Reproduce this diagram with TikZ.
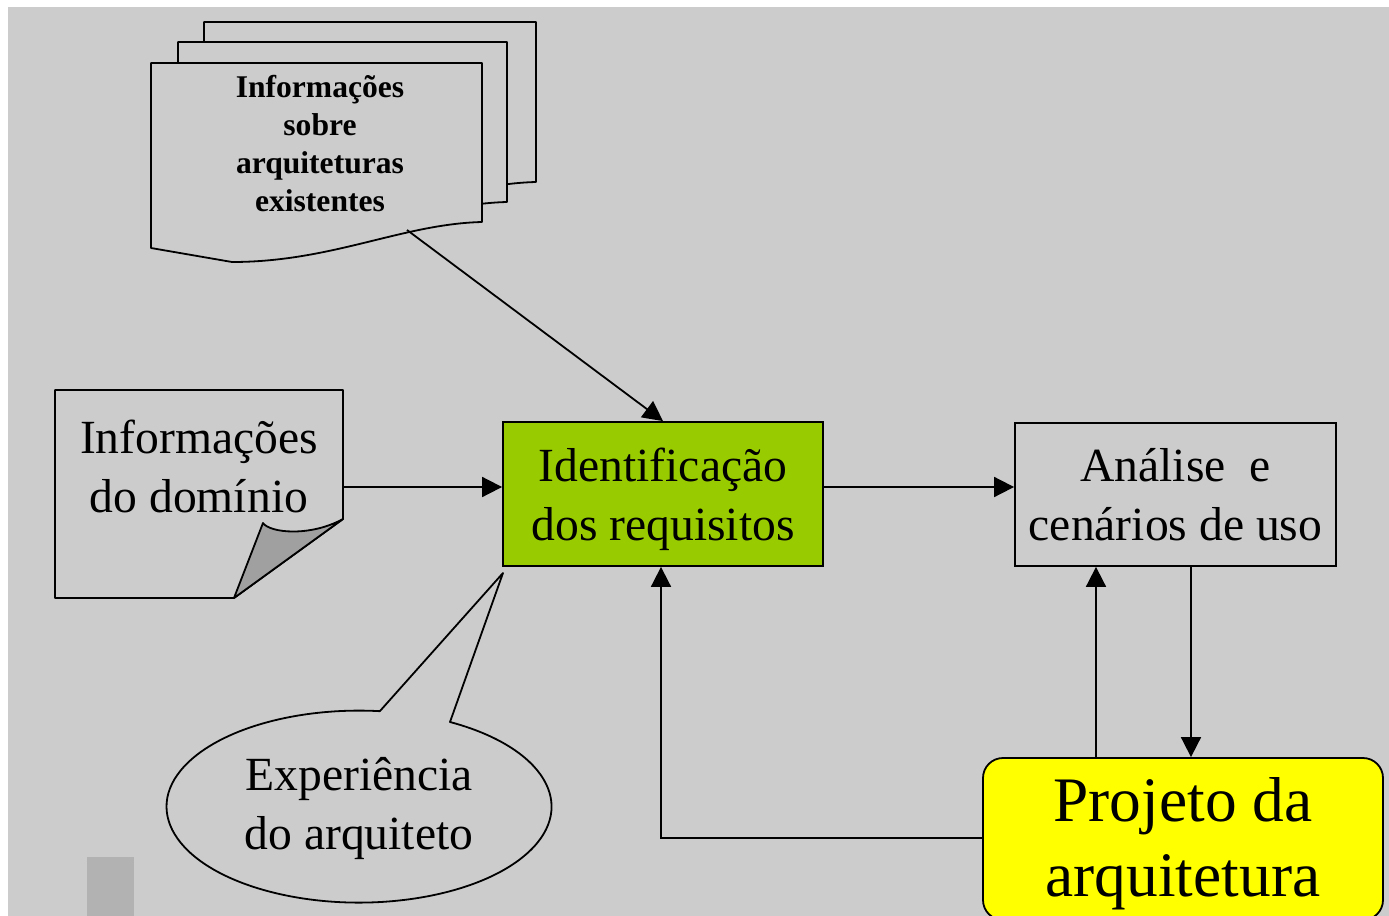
\documentclass[tikz,border=0pt]{standalone}
\usepackage{fontspec}
\setmainfont{Liberation Serif}
\usetikzlibrary{arrows.meta}
\definecolor{bggray}{HTML}{CCCCCC}
\definecolor{shadegray}{HTML}{B2B2B2}
\definecolor{foldgray}{HTML}{A0A0A0}
\definecolor{boxgreen}{HTML}{99CC00}
\definecolor{boxyellow}{HTML}{FFFF00}
\begin{document}
\begin{tikzpicture}[x=0.5pt,y=-0.5pt,line width=0.9pt,
  arr/.style={-{Triangle[length=10pt,width=10pt]}},
  page/.style={draw=black,fill=bggray,line join=round},
  midtext/.style={align=center,inner sep=0pt,font=\fontsize{23.8}{29.5}\selectfont},
  doctext/.style={align=center,inner sep=0pt,font=\fontsize{15.8}{19}\selectfont\bfseries},
  procbox/.style={draw=black,rectangle,inner sep=0pt,align=center,font=\fontsize{23.8}{29.5}\selectfont}]
\useasboundingbox (0,0) rectangle (1389,916);
\clip (0,0) rectangle (1389,916);
\fill[white] (0,0) rectangle (1389,916);
\fill[bggray] (8,7) rectangle (1389,916);
\fill[shadegray] (87,857) rectangle (134,916);

% document stack
\draw[page] (204,22) -- (536,22) -- (536,182) .. controls (456,184) and (386,222) .. (286,222) -- (204,208) -- cycle;
\draw[page] (178,42) -- (507,42) -- (507,202) .. controls (427,204) and (357,242) .. (257,242) -- (178,228) -- cycle;
\draw[page] (151,63) -- (482,63) -- (482,222) .. controls (402,224) and (332,262) .. (232,262) -- (151,248) -- cycle;
\node[doctext] (doctxt) at (320,144) {Informações\\sobre\\arquiteturas\\existentes};
\coordinate (docout) at (407,230);

% domain note
\draw[page] (55,390) -- (343,390) -- (343,519) -- (234,598) -- (55,598) -- cycle;
\draw[draw=black,fill=foldgray,line join=round] (234,598) -- (263,523) .. controls (270,533) and (310,537) .. (343,519) -- cycle;
\node[midtext] (domtxt) at (199,466) {Informações\\do domínio};
\coordinate (domout) at (343,487);

% callout ellipse
\draw[page] (380,711) -- (503,573) -- (450,722) arc[start angle=-61.8,end angle=276.1,x radius=192.5,y radius=96] -- cycle;
\node[midtext] (exptxt) at (359,809) {Experiência\\do arquiteto};

% process boxes
\node[procbox,fill=boxgreen,minimum width=160pt,minimum height=72pt] (ident) at (663,494) {};
\node[midtext] (identtxt) at (663,499) {Identificação\\dos requisitos};
\node[procbox,fill=bggray,minimum width=160.5pt,minimum height=71.5pt] (anal) at (1175.5,494.5) {Análise~ e\\cenários de uso};
\node[procbox,fill=boxyellow,rounded corners=10pt,minimum width=200pt,minimum height=81pt] (proj) at (1183,839) {};
\node[midtext,font=\fontsize{31.7}{37.5}\selectfont] (projtxt) at (1183,844) {Projeto da\\arquitetura};

\coordinate (xdown) at (1191,0);
\coordinate (xup) at (1096,0);
\coordinate (xback) at (661,0);
\coordinate (yback) at (0,838);

% connectors
\draw[arr] (docout) -- (ident.north);
\draw[arr] (domout) -- (domout -| ident.west);
\draw[arr] (ident.east |- domout) -- (anal.west |- domout);
\draw[arr] (anal.south -| xdown) -- (proj.north -| xdown);
\draw[arr] (proj.north -| xup) -- (anal.south -| xup);
\draw[arr] (proj.west |- yback) -- (xback |- yback) -- (ident.south -| xback);
\end{tikzpicture}
\end{document}
